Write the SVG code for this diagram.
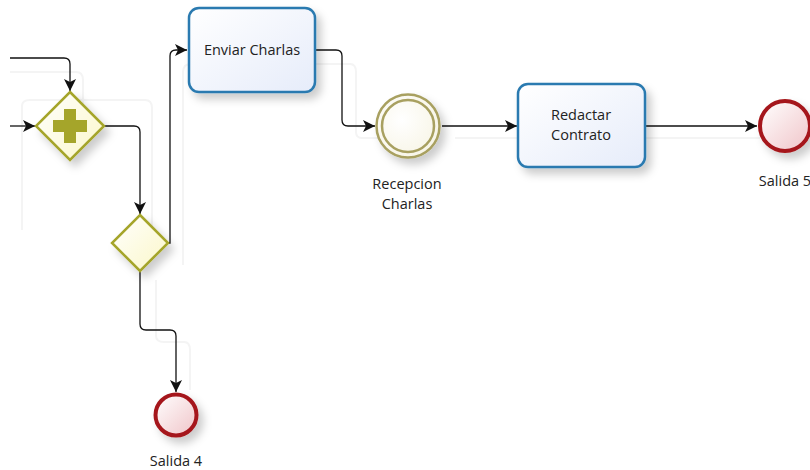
<svg xmlns="http://www.w3.org/2000/svg" width="810" height="470" viewBox="0 0 810 470">
<style>
.conn{fill:none;stroke:#111;stroke-width:1.3}
.ghost{fill:none;stroke:#f4f4f4;stroke-width:2}
.task{fill:url(#taskFill);stroke:#2a7ab0;stroke-width:2.5}
.lbl{font-family:"Open Sans","DejaVu Sans",sans-serif;font-size:14.5px;fill:#222;text-anchor:middle}
.gw{fill:url(#gwFill);stroke:#a5a52a;stroke-width:2.5}
.end{fill:url(#endFill);stroke:#a5151a;stroke-width:4}
</style>
<defs>
<linearGradient id="taskFill" x1="0" y1="0" x2="1" y2="1">
<stop offset="0" stop-color="#ffffff"/><stop offset="1" stop-color="#e6ecfa"/>
</linearGradient>
<linearGradient id="gwFill" x1="0" y1="0" x2="1" y2="1">
<stop offset="0" stop-color="#ffffff"/><stop offset="1" stop-color="#fbf7c8"/>
</linearGradient>
<linearGradient id="endFill" x1="0" y1="0" x2="1" y2="1">
<stop offset="0" stop-color="#ffffff"/><stop offset="1" stop-color="#f0c4c8"/>
</linearGradient>
<radialGradient id="interFill" cx="0.4" cy="0.4" r="0.7">
<stop offset="0" stop-color="#ffffff"/><stop offset="1" stop-color="#f7f4e4"/>
</radialGradient>
<filter id="sh" x="-30%" y="-30%" width="170%" height="170%">
<feDropShadow dx="5" dy="6" stdDeviation="4" flood-color="#000" flood-opacity="0.2"/>
</filter>
<marker id="arr" viewBox="0 0 12 12" refX="12" refY="6" markerWidth="12" markerHeight="12" markerUnits="userSpaceOnUse" orient="auto">
<path d="M0,0 L12,6 L0,12 L3,6 Z" fill="#111"/>
</marker>
</defs>
<g id="ghosts">
<path class="ghost" d="M10,72 H76 Q83,72 83,80 V104"/>
<path class="ghost" d="M22,230 V106 Q22,100 30,100 H145 Q152,100 152,108 V230"/>
<path class="ghost" d="M183,265 V72 Q183,64 191,64 H350 Q356,64 356,72 V132 Q356,138 362,138 H380"/>
<path class="ghost" d="M455,138 H760"/>
<path class="ghost" d="M156,280 V336 Q156,342 164,342 H184 Q190,342 190,350 V390"/>
</g>
<g id="connectors">
<path class="conn" d="M10,58 H64 Q70,58 70,64 V91" marker-end="url(#arr)"/>
<path class="conn" d="M10,126 H35" marker-end="url(#arr)"/>
<path class="conn" d="M104,126 H134 Q140,126 140,132 V214" marker-end="url(#arr)"/>
<path class="conn" d="M168,243 H170 V56 Q170,50 176,50 H187" marker-end="url(#arr)"/>
<path class="conn" d="M316,50 H336 Q342,50 342,56 V120 Q342,126 348,126 H375" marker-end="url(#arr)"/>
<path class="conn" d="M442,126 H517" marker-end="url(#arr)"/>
<path class="conn" d="M646,126 H757" marker-end="url(#arr)"/>
<path class="conn" d="M140,271 V324 Q140,330 146,330 H170 Q176,330 176,336 V392" marker-end="url(#arr)"/>
</g>
<g id="parallelGateway">
<polygon class="gw" points="70,92 104,126 70,160 36,126" filter="url(#sh)"/>
<path d="M64,109 H76 V120 H87 V132 H76 V143 H64 V132 H53 V120 H64 Z" fill="#a5a52a"/>
</g>
<g id="exclusiveGateway">
<polygon class="gw" points="140,215 168,243 140,271 112,243" filter="url(#sh)"/>
</g>
<g id="enviarCharlas">
<rect class="task" x="189" y="8" width="126" height="84" rx="10" filter="url(#sh)"/>
<text class="lbl" x="252" y="55">Enviar Charlas</text>
</g>
<g id="recepcionCharlas">
<circle cx="408" cy="126" r="31.5" fill="url(#interFill)" stroke="#a8a060" stroke-width="2.5" filter="url(#sh)"/>
<circle cx="408" cy="126" r="26" fill="none" stroke="#a8a060" stroke-width="2.5"/>
<text class="lbl" x="407" y="189">Recepcion</text>
<text class="lbl" x="407" y="209">Charlas</text>
</g>
<g id="redactarContrato">
<rect class="task" x="518" y="84" width="127" height="83" rx="10" filter="url(#sh)"/>
<text class="lbl" x="581" y="120">Redactar</text>
<text class="lbl" x="581" y="140">Contrato</text>
</g>
<g id="salida5">
<circle class="end" cx="785" cy="126" r="25" filter="url(#sh)"/>
<text class="lbl" x="785" y="186">Salida 5</text>
</g>
<g id="salida4">
<circle class="end" cx="176" cy="415" r="20.5" filter="url(#sh)"/>
<text class="lbl" x="176" y="466">Salida 4</text>
</g>
</svg>
